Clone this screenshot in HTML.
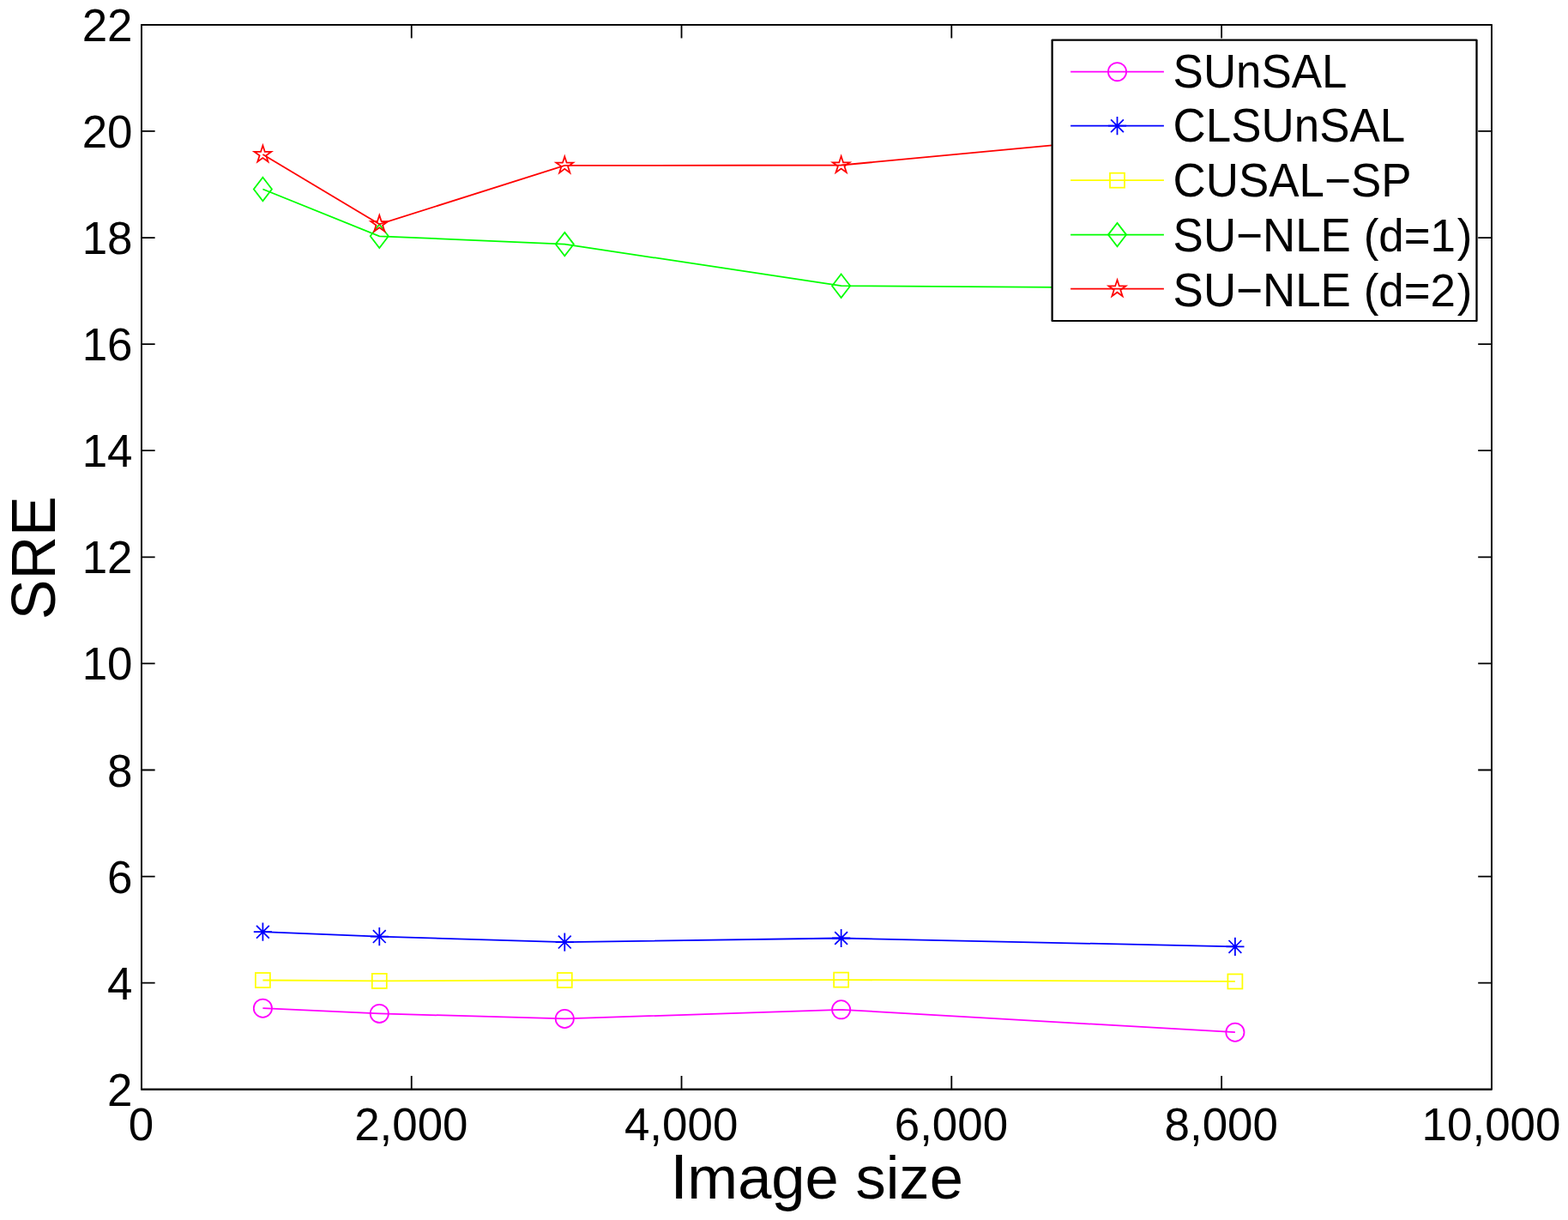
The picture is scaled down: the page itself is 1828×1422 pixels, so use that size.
<!DOCTYPE html>
<html lang="en"><head><meta charset="utf-8"><title>SRE vs Image size</title>
<style>
html,body{margin:0;padding:0;background:#fff;}
body{width:1828px;height:1422px;overflow:hidden;}
svg{display:block;}
text{font-family:"Liberation Sans", sans-serif;fill:#000;}
.t{font-size:52.92px;}
.l{font-size:70.56px;}
.l2{font-size:70.1px;}
.ax{stroke:#000;stroke-width:1.8;fill:none;stroke-linecap:butt;stroke-linejoin:round;}
.s{stroke-width:1.76;fill:none;stroke-linejoin:miter;stroke-linecap:butt;stroke-miterlimit:10;}
.m{stroke:#f0f;}.b{stroke:#00f;}.y{stroke:#ff0;}.g{stroke:#0f0;}.r{stroke:#f00;}
</style></head><body>
<svg width="1828" height="1422" viewBox="0 0 1828 1422" role="img" aria-label="SRE versus image size">
<rect x="0" y="0" width="1828" height="1422" fill="#fff"/>
<g id="series">
<polyline class="s m" points="306.4,1175.2 442.3,1181.4 658.3,1187.45 980.65,1176.8 1439.9,1203.2"/>
<circle class="s m" cx="306.4" cy="1175.2" r="10.6"/>
<circle class="s m" cx="442.3" cy="1181.4" r="10.6"/>
<circle class="s m" cx="658.3" cy="1187.45" r="10.6"/>
<circle class="s m" cx="980.65" cy="1176.8" r="10.6"/>
<circle class="s m" cx="1439.9" cy="1203.2" r="10.6"/>
<polyline class="s b" points="306.4,1086.2 442.3,1091.6 658.3,1098.1 980.65,1093.5 1439.9,1103.4"/>
<path class="s b" d="M295.8 1086.2H317M306.4 1075.6V1096.8M299 1078.8L313.8 1093.6M299 1093.6L313.8 1078.8"/>
<path class="s b" d="M431.7 1091.6H452.9M442.3 1081V1102.2M434.9 1084.2L449.7 1099M434.9 1099L449.7 1084.2"/>
<path class="s b" d="M647.7 1098.1H668.9M658.3 1087.5V1108.7M650.9 1090.7L665.7 1105.5M650.9 1105.5L665.7 1090.7"/>
<path class="s b" d="M970.05 1093.5H991.25M980.65 1082.9V1104.1M973.25 1086.1L988.05 1100.9M973.25 1100.9L988.05 1086.1"/>
<path class="s b" d="M1429.3 1103.4H1450.5M1439.9 1092.8V1114M1432.5 1096L1447.3 1110.8M1432.5 1110.8L1447.3 1096"/>
<polyline class="s y" points="306.4,1142.5 442.3,1143.4 658.3,1142.5 980.65,1142.1 1439.9,1143.95"/>
<rect class="s y" x="297.9" y="1134" width="17" height="17"/>
<rect class="s y" x="433.8" y="1134.9" width="17" height="17"/>
<rect class="s y" x="649.8" y="1134" width="17" height="17"/>
<rect class="s y" x="972.15" y="1133.6" width="17" height="17"/>
<rect class="s y" x="1431.4" y="1135.45" width="17" height="17"/>
<polyline class="s g" points="306.4,220.5 442.3,275.3 658.3,284.6 980.65,333.2 1439.9,336.4"/>
<path class="s g" d="M306.4 206.74L316.98 220.5L306.4 234.26L295.82 220.5Z"/>
<path class="s g" d="M442.3 261.54L452.88 275.3L442.3 289.06L431.72 275.3Z"/>
<path class="s g" d="M658.3 270.84L668.88 284.6L658.3 298.36L647.72 284.6Z"/>
<path class="s g" d="M980.65 319.44L991.23 333.2L980.65 346.96L970.07 333.2Z"/>
<path class="s g" d="M1439.9 322.64L1450.48 336.4L1439.9 350.16L1429.32 336.4Z"/>
<polyline class="s r" points="306.4,180 442.3,261.3 658.3,192.9 980.65,192.5 1439.9,149.5"/>
<path class="s r" d="M306.4 169.55L308.75 176.77L316.34 176.77L310.2 181.23L312.54 188.45L306.4 183.99L300.26 188.45L302.6 181.23L296.46 176.77L304.05 176.77Z"/>
<path class="s r" d="M442.3 250.85L444.65 258.07L452.24 258.07L446.1 262.53L448.44 269.75L442.3 265.29L436.16 269.75L438.5 262.53L432.36 258.07L439.95 258.07Z"/>
<path class="s r" d="M658.3 182.45L660.65 189.67L668.24 189.67L662.1 194.13L664.44 201.35L658.3 196.89L652.16 201.35L654.5 194.13L648.36 189.67L655.95 189.67Z"/>
<path class="s r" d="M980.65 182.05L983 189.27L990.59 189.27L984.45 193.73L986.79 200.95L980.65 196.49L974.51 200.95L976.85 193.73L970.71 189.27L978.3 189.27Z"/>
<path class="s r" d="M1439.9 139.05L1442.25 146.27L1449.84 146.27L1443.7 150.73L1446.04 157.95L1439.9 153.49L1433.76 157.95L1436.1 150.73L1429.96 146.27L1437.55 146.27Z"/>
</g>
<g id="axes">
<rect class="ax" x="164.95" y="28.85" width="1573.95" height="1240.9"/>
<rect class="ax" x="164.95" y="28.85" width="1573.95" height="1240.9"/>
<path class="ax" d="M479.74 1269.75V1254.05M479.74 28.85V44.55M794.53 1269.75V1254.05M794.53 28.85V44.55M1109.32 1269.75V1254.05M1109.32 28.85V44.55M1424.11 1269.75V1254.05M1424.11 28.85V44.55M164.95 1145.66H180.65M1738.9 1145.66H1723.2M164.95 1021.57H180.65M1738.9 1021.57H1723.2M164.95 897.48H180.65M1738.9 897.48H1723.2M164.95 773.39H180.65M1738.9 773.39H1723.2M164.95 649.3H180.65M1738.9 649.3H1723.2M164.95 525.21H180.65M1738.9 525.21H1723.2M164.95 401.12H180.65M1738.9 401.12H1723.2M164.95 277.03H180.65M1738.9 277.03H1723.2M164.95 152.94H180.65M1738.9 152.94H1723.2"/>
</g>
<g id="xticks">
<text class="t" text-anchor="middle" transform="matrix(1 0 0 1.03 164.55 1329)">0</text>
<text class="t" text-anchor="middle" transform="matrix(1 0 0 1.03 479.34 1329)">2,000</text>
<text class="t" text-anchor="middle" transform="matrix(1 0 0 1.03 794.13 1329)">4,000</text>
<text class="t" text-anchor="middle" transform="matrix(1 0 0 1.03 1108.92 1329)">6,000</text>
<text class="t" text-anchor="middle" transform="matrix(1 0 0 1.03 1423.71 1329)">8,000</text>
<text class="t" text-anchor="middle" transform="matrix(1 0 0 1.03 1738.5 1329)">10,000</text>
</g>
<g id="yticks">
<text class="t" text-anchor="end" transform="matrix(1 0 0 1.03 154.5 1288.85)">2</text>
<text class="t" text-anchor="end" transform="matrix(1 0 0 1.03 154.5 1164.76)">4</text>
<text class="t" text-anchor="end" transform="matrix(1 0 0 1.03 154.5 1040.67)">6</text>
<text class="t" text-anchor="end" transform="matrix(1 0 0 1.03 154.5 916.58)">8</text>
<text class="t" text-anchor="end" transform="matrix(1 0 0 1.03 154.5 792.49)">10</text>
<text class="t" text-anchor="end" transform="matrix(1 0 0 1.03 154.5 668.4)">12</text>
<text class="t" text-anchor="end" transform="matrix(1 0 0 1.03 154.5 544.31)">14</text>
<text class="t" text-anchor="end" transform="matrix(1 0 0 1.03 154.5 420.22)">16</text>
<text class="t" text-anchor="end" transform="matrix(1 0 0 1.03 154.5 296.13)">18</text>
<text class="t" text-anchor="end" transform="matrix(1 0 0 1.03 154.5 172.04)">20</text>
<text class="t" text-anchor="end" transform="matrix(1 0 0 1.03 154.5 47.95)">22</text>
</g>
<text class="l" text-anchor="middle" transform="matrix(1 0 0 0.985 952.5 1396.8)"><tspan dx="-0.4" style="font-size:74.6px">I</tspan><tspan dx="-0.7">mage size</tspan></text>
<text class="l2" text-anchor="middle" transform="matrix(0 -1 1.035 0 63.9 650.25)">SRE</text>
<g id="legend">
<rect class="ax" x="1226.6" y="46.6" width="494.9" height="327.4" style="fill:#fff"/>
<rect class="ax" x="1226.6" y="46.6" width="494.9" height="327.4"/>
<path class="s m" d="M1248.1 83.65H1356.9"/>
<circle class="s m" cx="1302.5" cy="83.65" r="10.6"/>
<text class="t" transform="matrix(1 0 0 1.045 1367.6 102.05)">SUnSAL</text>
<path class="s b" d="M1248.1 146.7H1356.9"/>
<path class="s b" d="M1291.9 146.7H1313.1M1302.5 136.1V157.3M1295.1 139.3L1309.9 154.1M1295.1 154.1L1309.9 139.3"/>
<text class="t" transform="matrix(1 0 0 1.045 1367.6 165.1)">CLSUnSAL</text>
<path class="s y" d="M1248.1 210.2H1356.9"/>
<rect class="s y" x="1294" y="201.7" width="17" height="17"/>
<text class="t" transform="matrix(1 0 0 1.045 1367.6 228.6)">CUSAL−SP</text>
<path class="s g" d="M1248.1 273.6H1356.9"/>
<path class="s g" d="M1302.5 259.84L1313.08 273.6L1302.5 287.36L1291.92 273.6Z"/>
<g><text class="t" transform="matrix(1 0 0 1.045 1367.6 293.4)">SU−NLE </text><text class="t" transform="matrix(1 0 0 1 1589.67 293.4)">(d=1<tspan dx="1.8">)</tspan></text></g>
<path class="s r" d="M1248.1 336.7H1356.9"/>
<path class="s r" d="M1302.5 326.25L1304.85 333.47L1312.44 333.47L1306.3 337.93L1308.64 345.15L1302.5 340.69L1296.36 345.15L1298.7 337.93L1292.56 333.47L1300.15 333.47Z"/>
<g><text class="t" transform="matrix(1 0 0 1.045 1367.6 356.5)">SU−NLE </text><text class="t" transform="matrix(1 0 0 1 1589.67 356.5)">(d=2<tspan dx="1.8">)</tspan></text></g>
</g>
</svg>
</body></html>
